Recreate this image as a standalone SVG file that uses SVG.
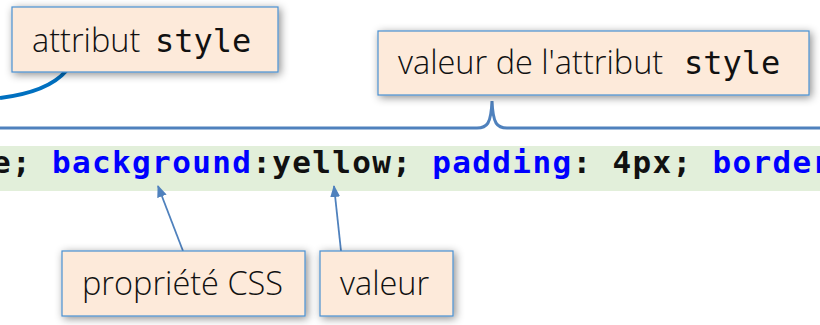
<svg xmlns="http://www.w3.org/2000/svg" width="820" height="325" viewBox="0 0 820 325">
  <defs>
    <filter id="shadow" x="-20%" y="-40%" width="140%" height="180%">
      <feDropShadow dx="2" dy="2" stdDeviation="4.5" flood-color="#000" flood-opacity="0.45"/>
    </filter>
    <marker id="arrow" viewBox="0 0 12 10" refX="11" refY="5" markerWidth="12" markerHeight="10" markerUnits="userSpaceOnUse" orient="auto">
      <path d="M0,0 L12,5 L0,10 Z" fill="#4F81BD"/>
    </marker>
  </defs>
  <style>
    .box { fill: #FDEADA; stroke: #4A8FD0; stroke-width: 1.2; filter: url(#shadow); }
    .lbl { font-family: "Open Sans", "Noto Sans", "Liberation Sans", sans-serif; font-weight: 300; font-size: 32.5px; fill: #111; }
    .mono { font-family: "DejaVu Sans Mono", "Liberation Mono", monospace; font-size: 32px; font-weight: normal; fill: #111; }
    .code { font-family: "DejaVu Sans Mono", "Liberation Mono", monospace; font-weight: bold; font-size: 31px; letter-spacing: 1.35px; fill: #111; }
    .prop { fill: #0000FF; }
    .conn { fill: none; stroke: #4F81BD; stroke-width: 1.8; }
  </style>
  <rect x="0" y="0" width="820" height="325" fill="#ffffff"/>

  <g id="code-line">
    <rect x="0" y="146" width="820" height="45" fill="#E2EFDA"/>
    <text class="code" x="-8" y="173">e; <tspan class="prop">background</tspan>:yellow; <tspan class="prop">padding</tspan>: 4px; <tspan class="prop">border</tspan></text>
  </g>

  <g id="connectors">
    <path d="M66,71 Q48,92 0,98" fill="none" stroke="#0070C0" stroke-width="4"/>
    <path d="M0,128 H477 C487,128 491,124 492,101 C493,124 497,128 507,128 H820" fill="none" stroke="#4F81BD" stroke-width="3"/>
    <line class="conn" x1="183" y1="251" x2="158" y2="186" marker-end="url(#arrow)"/>
    <line class="conn" x1="341" y1="251" x2="334" y2="186" marker-end="url(#arrow)"/>
  </g>

  <g id="attribut-style">
    <rect class="box" x="12" y="7" width="266" height="65"/>
    <text class="lbl" x="32" y="52">attribut <tspan class="mono" x="155">style</tspan></text>
  </g>

  <g id="valeur-attribut">
    <rect class="box" x="378" y="31" width="431" height="64"/>
    <text class="lbl" x="398" y="74">valeur de l'attribut <tspan class="mono" x="684">style</tspan></text>
  </g>

  <g id="propriete-css">
    <rect class="box" x="62" y="251" width="243" height="65"/>
    <text class="lbl" x="82" y="295">propriété CSS</text>
  </g>

  <g id="valeur">
    <rect class="box" x="320" y="251" width="133" height="65"/>
    <text class="lbl" x="340" y="295">valeur</text>
  </g>
</svg>
